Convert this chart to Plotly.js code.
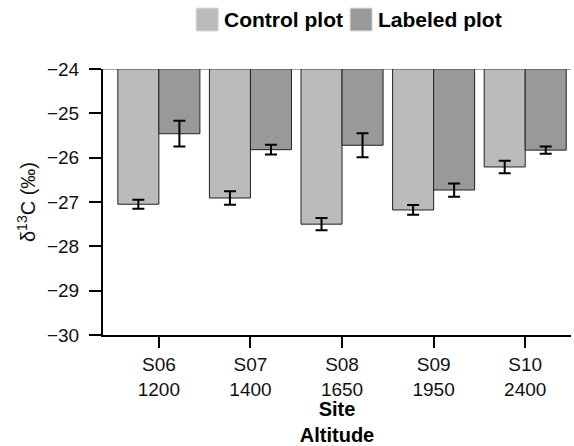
<!DOCTYPE html>
<html>
<head>
<meta charset="utf-8">
<script src="https://cdn.plot.ly/plotly-3.0.1.min.js"></script>
<style>html,body{margin:0;padding:0;background:#fff;}#chart{width:574px;height:446px;}</style>
</head>
<body>
<div id="chart"></div>
<script>
const sites = ["S06<br>1200", "S07<br>1400", "S08<br>1650", "S09<br>1950", "S10<br>2400"];
const seriesNames = ["Control plot", "Labeled plot"];
const seriesColors = ["#bbbbbb", "#999999"];
const controlVals = [-27.05, -26.91, -27.50, -27.18, -26.21];
const controlErr = [0.10, 0.15, 0.14, 0.11, 0.14];
const labeledVals = [-25.46, -25.82, -25.72, -26.73, -25.83];
const labeledErr = [0.29, 0.11, 0.27, 0.15, 0.08];
const yTicks = [-30, -29, -28, -27, -26, -25, -24];

const fam = "Liberation Sans, Arial, sans-serif";

const traces = [
  {
    type: "bar", name: seriesNames[0], x: sites, y: controlVals,
    marker: {color: seriesColors[0], line: {color: "#222", width: 1}},
    error_y: {type: "data", array: controlErr, visible: true, color: "#000", thickness: 2, width: 6}
  },
  {
    type: "bar", name: seriesNames[1], x: sites, y: labeledVals,
    marker: {color: seriesColors[1], line: {color: "#222", width: 1}},
    error_y: {type: "data", array: labeledErr, visible: true, color: "#000", thickness: 2, width: 6}
  }
];

// manual legend (paper coordinates)
const legX = [0.199, 0.528];
const legW = 0.047;
const legY0 = 1.143, legY1 = 1.229;
const legendShapes = seriesNames.map((n, i) => ({
  type: "rect", xref: "paper", yref: "paper",
  x0: legX[i], x1: legX[i] + legW, y0: legY0, y1: legY1,
  fillcolor: seriesColors[i], line: {color: "#d8d8d8", width: 1}
}));
const legendAnn = seriesNames.map((n, i) => ({
  xref: "paper", yref: "paper", x: legX[i] + legW + 0.008, y: (legY0 + legY1) / 2,
  xanchor: "left", yanchor: "middle", showarrow: false,
  text: "<b>" + n + "</b>", font: {family: fam, size: 21, color: "#000"}
}));

const layout = {
  width: 574, height: 446,
  margin: {l: 103, r: 3, t: 69, b: 111},
  paper_bgcolor: "#fff", plot_bgcolor: "#fff",
  font: {family: fam, size: 19, color: "#111"},
  barmode: "group", bargap: 0.104, bargroupgap: 0,
  showlegend: false,
  xaxis: {
    range: [-0.61, 4.5], automargin: false,
    showline: true, linecolor: "#000", linewidth: 2,
    ticks: "outside", ticklen: 11, tickwidth: 2, tickcolor: "#000",
    showgrid: false, zeroline: false,
    tickfont: {family: fam, size: 19, color: "#111"},
    title: {text: "<b>Site<br>Altitude</b>", font: {family: fam, size: 20, color: "#000"}, standoff: 5}
  },
  yaxis: {
    range: [-30, -24], automargin: false,
    tickvals: yTicks,
    showline: true, linecolor: "#000", linewidth: 2,
    ticks: "outside", ticklen: 12, tickwidth: 2, tickcolor: "#000",
    ticklabelstandoff: 6,
    showgrid: false, zeroline: false,
    tickfont: {family: fam, size: 19, color: "#111"},
    title: {text: "δ<sup>13</sup>C (‰)", font: {family: fam, size: 20, color: "#111"}, standoff: 6}
  },
  shapes: [
    {type: "line", xref: "paper", yref: "y", x0: 0, x1: 1, y0: -24, y1: -24, line: {color: "#444", width: 1}}
  ].concat(legendShapes),
  annotations: legendAnn
};

Plotly.newPlot("chart", traces, layout, {displayModeBar: false, staticPlot: true});
</script>
</body>
</html>
